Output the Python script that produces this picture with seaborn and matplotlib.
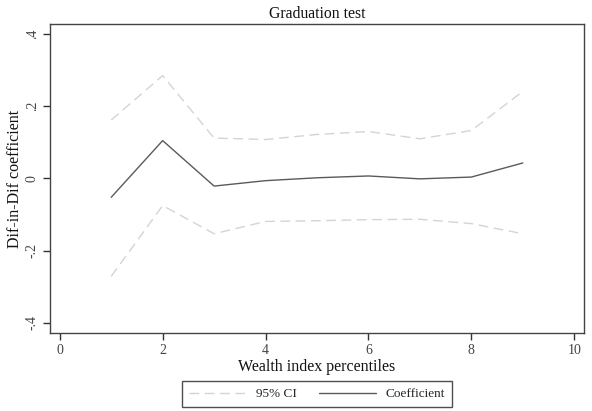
import matplotlib
matplotlib.use("Agg")
import matplotlib.pyplot as plt
import seaborn as sns
import pandas as pd

percentiles = [1, 2, 3, 4, 5, 6, 7, 8, 9]
coefficient = [-0.052, 0.105, -0.021, -0.006, 0.002, 0.007, -0.001, 0.004, 0.043]
ci_upper = [0.162, 0.285, 0.112, 0.108, 0.122, 0.130, 0.110, 0.133, 0.241]
ci_lower = [-0.271, -0.075, -0.153, -0.119, -0.117, -0.114, -0.113, -0.125, -0.153]
x_ticks = [0, 2, 4, 6, 8, 10]
y_ticks = [-0.4, -0.2, 0, 0.2, 0.4]
y_tick_labels = ["-.4", "-.2", "0", ".2", ".4"]

sns.set_style("ticks")
plt.rcParams['font.family'] = ['Liberation Serif', 'DejaVu Serif']

df = pd.DataFrame({"x": percentiles, "coef": coefficient, "up": ci_upper, "lo": ci_lower})

fig = plt.figure(figsize=(5.92, 4.11), dpi=100)
ax = fig.add_axes([50/592, 1-333/411, 534/592, 309/411])

ci_color = "#d4d4d4"
coef_color = "#5a5a5a"
sns.lineplot(data=df, x="x", y="up", ax=ax, color=ci_color, lw=1.0,
             linestyle=(0, (7, 4)), label="95% CI")
sns.lineplot(data=df, x="x", y="lo", ax=ax, color=ci_color, lw=1.0,
             linestyle=(0, (7, 4)), label="_nolegend_")
sns.lineplot(data=df, x="x", y="coef", ax=ax, color=coef_color, lw=1.0, label="Coefficient")

ax.set_xlim(-0.19, 10.19)
ax.set_ylim(-0.428, 0.428)
ax.set_xticks(x_ticks)
ax.set_xticklabels([str(t) for t in x_ticks])
ax.set_yticks(y_ticks)
ax.set_yticklabels(y_tick_labels, rotation=90, va="center")
ax.tick_params(axis="both", direction="out", length=5, width=1, color="#333333",
               labelsize=10, labelcolor="#444444", pad=3)
for s in ax.spines.values():
    s.set_color("#444444")
    s.set_linewidth(1.0)

ax.set_xlabel("Wealth index percentiles", fontsize=11.5, labelpad=1, color="#111111")
ax.set_ylabel("Dif-in-Dif coefficient", fontsize=11.5, labelpad=2, color="#111111")
ax.set_title("Graduation test", fontsize=11.3, pad=4, color="#111111")

ax.get_legend().remove()
h, l = ax.get_legend_handles_labels()
leg = fig.legend(h, l, loc="center", bbox_to_anchor=((187+447)/2/592, 1-394/411),
                 ncol=2, frameon=True, fancybox=False, edgecolor="#222222",
                 fontsize=9.5, handlelength=4.3, columnspacing=1.7, handletextpad=0.75,
                 borderpad=0.55, borderaxespad=0)
leg.get_frame().set_linewidth(1.0)

fig.savefig("out.png", dpi=100)
